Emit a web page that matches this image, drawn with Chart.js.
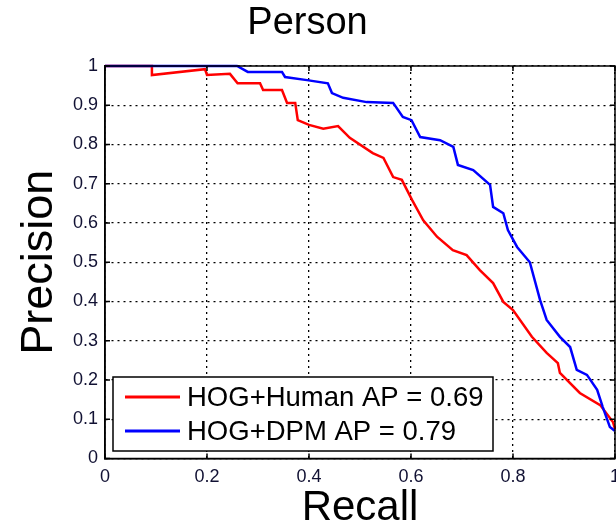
<!DOCTYPE html>
<html lang="en">
<head>
    <meta charset="UTF-8">
    <title>Person</title>
    <script src="https://cdn.jsdelivr.net/npm/chart.js@4.4.0/dist/chart.umd.min.js"></script>
    <style>
        html, body {
            margin: 0;
            padding: 0;
            background: #fff;
        }
        .container {
            width: 616px;
            height: 530px;
        }
    </style>
</head>
<body>
    <div class="container">
        <canvas id="myChart" width="616" height="530"></canvas>
    </div>

    <script>
        // Precision/recall values
        const recallHuman = [0, 0.092, 0.092, 0.196, 0.2, 0.245, 0.26, 0.304, 0.31, 0.347, 0.357, 0.373, 0.378, 0.40, 0.428, 0.457, 0.48, 0.525, 0.546, 0.565, 0.582, 0.602, 0.624, 0.651, 0.682, 0.709, 0.735, 0.761, 0.781, 0.8, 0.837, 0.866, 0.888, 0.892, 0.931, 0.971, 0.996, 1.0];
        const precisionHuman = [1, 1, 0.977, 0.992, 0.977, 0.98, 0.956, 0.956, 0.939, 0.939, 0.906, 0.906, 0.862, 0.85, 0.84, 0.847, 0.817, 0.778, 0.766, 0.717, 0.71, 0.659, 0.607, 0.565, 0.531, 0.518, 0.48, 0.447, 0.399, 0.378, 0.31, 0.269, 0.243, 0.218, 0.167, 0.136, 0.093, 0.075];

        const recallDPM = [0, 0.259, 0.28, 0.347, 0.353, 0.396, 0.437, 0.445, 0.467, 0.513, 0.565, 0.584, 0.601, 0.618, 0.657, 0.683, 0.692, 0.722, 0.755, 0.761, 0.781, 0.79, 0.808, 0.833, 0.853, 0.866, 0.892, 0.912, 0.925, 0.945, 0.965, 0.976, 0.99, 1.0];
        const precisionDPM = [1, 1, 0.985, 0.985, 0.972, 0.964, 0.956, 0.931, 0.919, 0.908, 0.906, 0.87, 0.862, 0.819, 0.811, 0.794, 0.748, 0.735, 0.697, 0.641, 0.625, 0.582, 0.539, 0.5, 0.404, 0.353, 0.31, 0.284, 0.226, 0.213, 0.175, 0.131, 0.08, 0.07];

        const seriesLabels = ['HOG+Human AP = 0.69', 'HOG+DPM AP = 0.79'];
        const xTicks = [0, 0.2, 0.4, 0.6, 0.8, 1];
        const yTicks = [0, 0.1, 0.2, 0.3, 0.4, 0.5, 0.6, 0.7, 0.8, 0.9, 1];

        const toPoints = (xs, ys) => xs.map((x, i) => ({ x: x, y: ys[i] }));

        const FONT = '"Liberation Sans", Arial, sans-serif';

        // Box, inward ticks and the legend inside the plot (matlab style)
        const matlabBox = {
            id: 'matlabBox',
            afterDraw(chart) {
                const ctx = chart.ctx;
                const a = chart.chartArea;
                const xs = chart.scales.x;
                const ys = chart.scales.y;

                ctx.save();
                ctx.strokeStyle = '#000';
                ctx.lineWidth = 1.5;
                ctx.setLineDash([]);

                // inward tick marks on all four sides
                ctx.beginPath();
                xTicks.forEach(v => {
                    const px = xs.getPixelForValue(v);
                    ctx.moveTo(px, a.bottom); ctx.lineTo(px, a.bottom - 5);
                    ctx.moveTo(px, a.top); ctx.lineTo(px, a.top + 5);
                });
                yTicks.forEach(v => {
                    const py = ys.getPixelForValue(v);
                    ctx.moveTo(a.left, py); ctx.lineTo(a.left + 5, py);
                    ctx.moveTo(a.right, py); ctx.lineTo(a.right - 5, py);
                });
                ctx.stroke();

                // legend
                const lx = 113, ly = 377, lw = 380, lh = 74;
                ctx.fillStyle = '#fff';
                ctx.fillRect(lx, ly, lw, lh);
                ctx.strokeRect(lx, ly, lw, lh);
                ctx.font = '27.5px ' + FONT;
                ctx.textBaseline = 'middle';
                ctx.textAlign = 'left';
                chart.data.datasets.forEach((ds, i) => {
                    const cy = ly + 20 + i * 34;
                    ctx.strokeStyle = ds.borderColor;
                    ctx.lineWidth = 3;
                    ctx.beginPath();
                    ctx.moveTo(lx + 12, cy);
                    ctx.lineTo(lx + 67, cy);
                    ctx.stroke();
                    ctx.fillStyle = '#000';
                    ctx.fillText(ds.label, lx + 74, cy + 1);
                });

                // box around the plot area
                ctx.strokeStyle = '#000';
                ctx.lineWidth = 1.5;
                ctx.strokeRect(a.left, a.top, a.right - a.left, a.bottom - a.top);
                ctx.restore();
            }
        };

        const ctx = document.getElementById('myChart').getContext('2d');
        const myChart = new Chart(ctx, {
            type: 'line',
            data: {
                datasets: [
                    {
                        label: seriesLabels[0],
                        data: toPoints(recallHuman, precisionHuman),
                        borderColor: '#ff0000',
                        borderWidth: 2.5,
                        pointRadius: 0,
                        tension: 0,
                        clip: false,
                        order: 1
                    },
                    {
                        label: seriesLabels[1],
                        data: toPoints(recallDPM, precisionDPM),
                        borderColor: '#0000ff',
                        borderWidth: 2.5,
                        pointRadius: 0,
                        tension: 0,
                        clip: false,
                        order: 0
                    }
                ]
            },
            options: {
                responsive: false,
                animation: false,
                layout: {
                    padding: { left: 0, right: 1, top: 0, bottom: 0 }
                },
                plugins: {
                    legend: { display: false },
                    tooltip: { enabled: false },
                    title: {
                        display: true,
                        text: 'Person',
                        color: '#000',
                        font: { family: FONT, size: 38, weight: 'normal', lineHeight: 1.2 },
                        padding: { top: 1, bottom: 19.4 }
                    }
                },
                scales: {
                    x: {
                        type: 'linear',
                        min: 0,
                        max: 1,
                        afterBuildTicks: (scale) => { scale.ticks = xTicks.map(v => ({ value: v })); },
                        afterFit: (scale) => {
                            scale.height = 71.5;
                            scale.paddingLeft = 0;
                            scale.paddingRight = 0;
                        },
                        ticks: {
                            color: '#111133',
                            padding: 8,
                            maxRotation: 0,
                            font: { family: FONT, size: 18 },
                            callback: (v) => String(v)
                        },
                        grid: { color: '#000', lineWidth: 1.3, drawTicks: false },
                        border: { display: true, color: '#000', width: 1.5, dash: [2, 4] },
                        title: {
                            display: true,
                            text: 'Recall',
                            color: '#000',
                            font: { family: FONT, size: 42, lineHeight: 1 },
                            padding: { top: 0, bottom: 1 }
                        }
                    },
                    y: {
                        type: 'linear',
                        min: 0,
                        max: 1,
                        afterBuildTicks: (scale) => { scale.ticks = yTicks.map(v => ({ value: v })); },
                        afterFit: (scale) => {
                            scale.width = 105;
                            scale.paddingTop = 0;
                            scale.paddingBottom = 0;
                        },
                        ticks: {
                            color: '#111133',
                            padding: 7,
                            font: { family: FONT, size: 18 },
                            callback: (v) => String(v)
                        },
                        grid: { color: '#000', lineWidth: 1.3, drawTicks: false },
                        border: { display: true, color: '#000', width: 1.5, dash: [2, 4] },
                        title: {
                            display: true,
                            text: 'Precision',
                            color: '#000',
                            font: { family: FONT, size: 45, lineHeight: 1 },
                            padding: { top: 17, bottom: 0 }
                        }
                    }
                }
            },
            plugins: [matlabBox]
        });
    </script>
</body>
</html>
